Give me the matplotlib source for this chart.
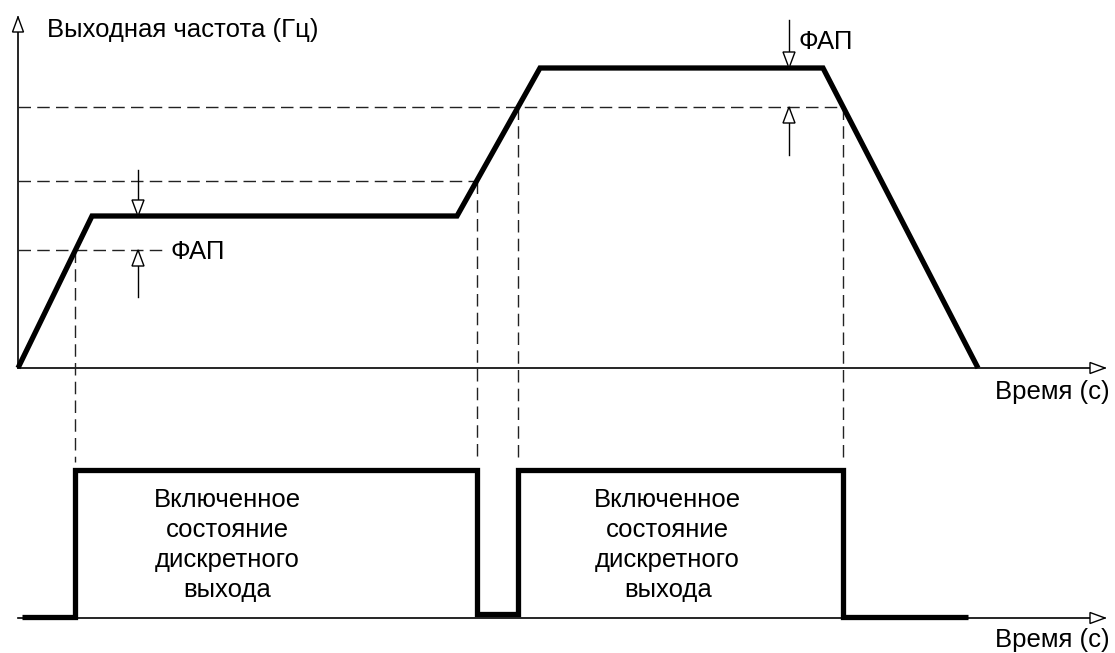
import matplotlib.pyplot as plt
import numpy as np
from matplotlib.patches import Polygon

# output frequency profile (time, freq) in drawing units
freq_t = [0, 74, 439, 522, 805, 960]
freq_f = [0, 152, 152, 300, 300, 0]

# switching thresholds: on-level for first and second plateau, off-level
thr_low = 118
thr_mid = 187
thr_high = 261

# discrete output levels
out_low = -249
out_high = -102
out_end = 950

fap_label = 'ФАП'
y_label = 'Выходная частота (Гц)'
x_label = 'Время (с)'
state_label = 'Включенное\nсостояние\nдискретного\nвыхода'

plt.rcParams['font.family'] = ['Liberation Sans', 'DejaVu Sans']
FS = 18.5

fig = plt.figure(figsize=(11.15, 6.53), dpi=100)
ax = fig.add_axes([0, 0, 1, 1])
ax.set_xlim(-18, 1097)
ax.set_ylim(-285, 368)
ax.axis('off')


def open_head(x, y, direction, length=15, width=11):
    dx, dy = direction
    px, py = -dy, dx
    bx, by = x - dx * length, y - dy * length
    pts = [(x, y), (bx + px * width / 2, by + py * width / 2),
           (bx - px * width / 2, by - py * width / 2)]
    ax.add_patch(Polygon(pts, closed=True, facecolor='white',
                         edgecolor='black', lw=1, zorder=5))


def open_arrow(x, y0, y1):
    d = 1 if y1 > y0 else -1
    ax.plot([x, x], [y0, y1], color='black', lw=1)
    open_head(x, y1, (0, d), length=16, width=12)


# axes with open arrow heads
ax.plot([0, 0], [0, 351], color='black', lw=1.2)
open_head(0, 351, (0, 1))
ax.plot([0, 1087], [0, 0], color='black', lw=1.2)
open_head(1087, 0, (1, 0))
ax.plot([0, 1087], [-250, -250], color='black', lw=1.2)
open_head(1087, -250, (1, 0))

dash = dict(color='#222222', lw=1, dashes=(9, 4.5))

# crossing times of thresholds on the ramps
t_on1 = np.interp(thr_low, freq_f[0:2], freq_t[0:2])
t_off1 = np.interp(thr_mid, freq_f[2:4], freq_t[2:4])
t_on2 = np.interp(thr_high, freq_f[2:4], freq_t[2:4])
t_off2 = np.interp(thr_high, freq_f[5:3:-1], freq_t[5:3:-1])

ax.plot([0, 147], [thr_low, thr_low], **dash)
ax.plot([0, t_off1], [thr_mid, thr_mid], **dash)
ax.plot([0, t_off2], [thr_high, thr_high], **dash)
for t, lvl in [(t_on1, thr_low), (t_off1, thr_mid),
               (t_on2, thr_high), (t_off2, thr_high)]:
    ax.plot([t, t], [lvl, -94], **dash)

ax.plot(freq_t, freq_f, color='black', lw=3.8, solid_joinstyle='miter',
        solid_capstyle='butt', zorder=4)

# hysteresis arrows
open_arrow(120, 198, freq_f[1])
open_arrow(120, 71, thr_low)
open_arrow(771, 348, freq_f[3])
open_arrow(771, 213, thr_high)
ax.text(153, thr_low - 2, fap_label, fontsize=FS, va='center', ha='left')
ax.text(781, 326, fap_label, fontsize=FS, va='center', ha='left')

ax.text(29, 338, y_label, fontsize=FS, va='center', ha='left')
ax.text(1092, -24, x_label, fontsize=FS, va='center', ha='right')
ax.text(1092, -272, x_label, fontsize=FS, va='center', ha='right')

# discrete output signal
sig_t = [4, t_on1, t_on1, t_off1, t_off1, t_on2, t_on2, t_off2, t_off2, out_end]
sig_v = [out_low, out_low, out_high, out_high, out_low + 3, out_low + 3,
         out_high, out_high, out_low, out_low]
ax.plot(sig_t, sig_v, color='black', lw=3.8, solid_joinstyle='miter',
        solid_capstyle='butt', zorder=4)

for cx in [(t_on1 + t_off1) / 2 - 49, (t_on2 + t_off2) / 2 - 13]:
    ax.text(cx, -177, state_label, fontsize=FS, ha='center', va='center',
            linespacing=1.33)

fig.savefig('out.png', dpi=100)
